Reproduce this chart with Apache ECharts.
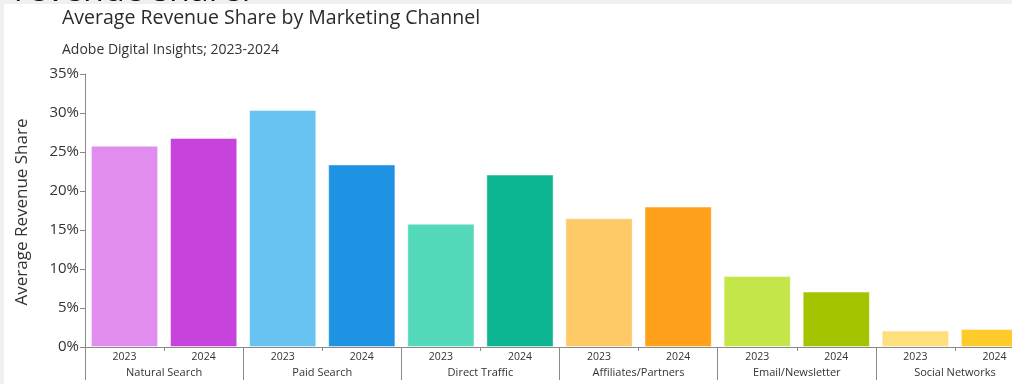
<!DOCTYPE html>
<html>
<head>
<meta charset="utf-8">
<script src="https://cdn.jsdelivr.net/npm/echarts@6/dist/echarts.min.js"></script>
<style>
  html, body { margin: 0; padding: 0; background: #ffffff; overflow: hidden; width: 1012px; height: 384px; }
  /* the chart is wider than the window, so the last channel runs off the right edge */
  #chart { width: 1040px; height: 384px; }
</style>
</head>
<body>
<div id="chart"></div>
<script>
// Marketing channels and the two survey years
const channels = ['Natural Search', 'Paid Search', 'Direct Traffic', 'Affiliates/Partners', 'Email/Newsletter', 'Social Networks'];
const years = ['2023', '2024'];

// Average revenue share (%) per channel
const share2023 = [25.8, 30.4, 15.8, 16.5, 9.1, 2.1];
const share2024 = [26.8, 23.4, 22.1, 18.0, 7.1, 2.3];

// Channel palette: lighter tone for 2023, stronger tone for 2024
const colors2023 = ['#e18df0', '#68c3f0', '#54d9bb', '#fec967', '#c4e648', '#ffde7e'];
const colors2024 = ['#c644dc', '#1e93e3', '#0cb592', '#ffa11a', '#a4c400', '#ffcb2a'];

// Y axis ticks
const yTicks = [0, 5, 10, 15, 20, 25, 30, 35];

// Flatten into one bar per (channel, year)
const yearLabels = [];
const barData = [];
channels.forEach((c, i) => {
  yearLabels.push(years[0], years[1]);
  barData.push({ value: share2023[i], itemStyle: { color: colors2023[i] } });
  barData.push({ value: share2024[i], itemStyle: { color: colors2024[i] } });
});

const FONT = '"Open Sans", "Noto Sans", sans-serif';
const AXIS_GRAY = '#8a8a8a';

const chart = echarts.init(document.getElementById('chart'), null, { renderer: 'canvas' });
chart.setOption({
  backgroundColor: '#ffffff',
  animation: false,
  textStyle: { fontFamily: FONT },
  graphic: [
    { type: 'rect', left: 0, top: 0, shape: { width: 1040, height: 4 }, style: { fill: '#f0f0f0' }, z: 1 },
    { type: 'rect', left: 0, top: 0, shape: { width: 4, height: 384 }, style: { fill: '#f0f0f0' }, z: 1 },
    { type: 'text', x: 14, y: 8, z: 5, style: { text: 'revenue share.', fontSize: 34, fontFamily: FONT, fill: '#111111', verticalAlign: 'bottom' } },
    { type: 'text', x: 62, y: 18, z: 2, style: { text: 'Average Revenue Share by Marketing Channel', fontSize: 19.5, fontFamily: FONT, fill: '#2b2b2b', verticalAlign: 'middle' } },
    { type: 'text', x: 62, y: 50, z: 2, style: { text: 'Adobe Digital Insights; 2023-2024', fontSize: 14, fontFamily: FONT, fill: '#333333', verticalAlign: 'middle' } },
    { type: 'text', x: 22, y: 212, rotation: Math.PI / 2, z: 2, style: { text: 'Average Revenue Share', fontSize: 17, fontFamily: FONT, fill: '#333333', align: 'center', verticalAlign: 'middle' } }
  ],
  grid: { left: 85, top: 74, bottom: 37, right: 6, containLabel: false },
  xAxis: [
    {
      type: 'category',
      data: yearLabels,
      position: 'bottom',
      axisLine: { show: true, lineStyle: { color: AXIS_GRAY, width: 1 } },
      axisTick: { show: true, length: 4, interval: (i) => i % 2 === 1, lineStyle: { color: AXIS_GRAY } },
      axisLabel: { interval: 0, margin: 5, fontSize: 10.5, color: '#333333', fontFamily: FONT }
    },
    {
      type: 'category',
      data: channels,
      position: 'bottom',
      axisLine: { show: false },
      axisTick: { show: true, length: 33, interval: 0, lineStyle: { color: AXIS_GRAY } },
      axisLabel: { interval: 0, margin: 20, fontSize: 11, color: '#333333', fontFamily: FONT }
    }
  ],
  yAxis: {
    type: 'value',
    min: yTicks[0],
    max: yTicks[yTicks.length - 1],
    interval: 5,
    axisLine: { show: true, lineStyle: { color: AXIS_GRAY, width: 1 } },
    axisTick: { show: true, length: 5, lineStyle: { color: AXIS_GRAY } },
    splitLine: { show: false },
    axisLabel: { formatter: '{value}%', fontSize: 15, color: '#333333', margin: 6, fontFamily: FONT }
  },
  series: [{
    type: 'bar',
    xAxisIndex: 0,
    data: barData,
    barCategoryGap: '15%',
    itemStyle: { borderColor: 'rgba(255,255,255,0.45)', borderWidth: 1 }
  }]
});
</script>
</body>
</html>
